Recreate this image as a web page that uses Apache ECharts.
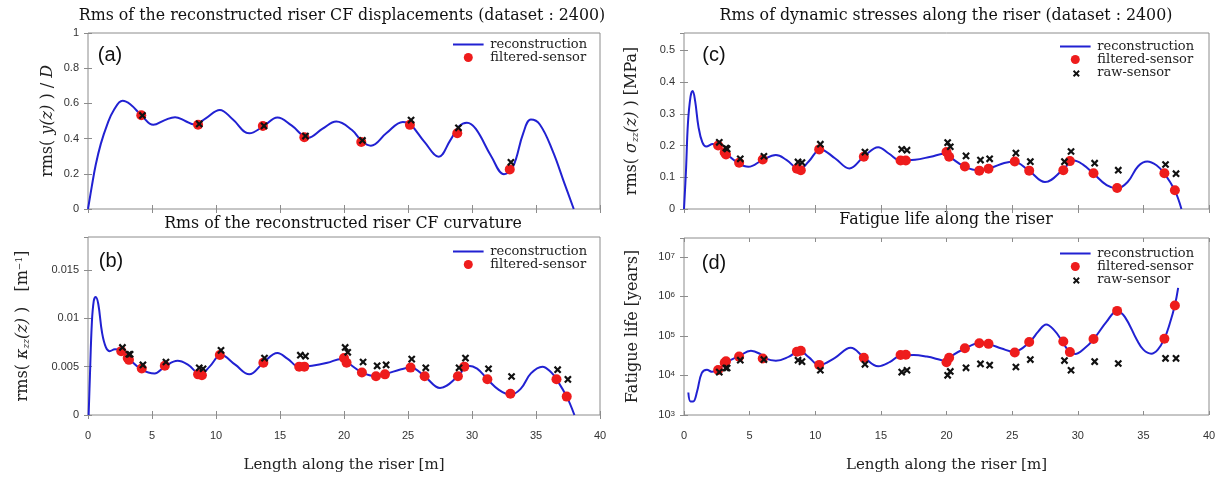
<!DOCTYPE html>
<html>
<head>
<meta charset="utf-8">
<script src="https://cdn.jsdelivr.net/npm/echarts@6/dist/echarts.min.js"></script>
<style>html,body{margin:0;padding:0;background:#fff}#chart{width:1228px;height:478px}</style>
</head>
<body>
<div id="chart"></div>
<script>
// sensor positions along the riser [m]
var sensorZa = [4.16, 8.6, 13.66, 16.9, 21.35, 25.15, 28.85, 32.95];
var sensorZ = [2.6, 3.1, 3.2, 4.2, 6.0, 8.6, 8.9, 10.3, 13.7, 16.5, 16.9, 20.0, 20.2, 21.4, 22.5, 23.2, 25.2, 26.3, 28.9, 29.4, 31.2, 33.0, 36.6, 37.4];

// (a) displacement
var filtA = [0.533, 0.479, 0.472, 0.408, 0.381, 0.478, 0.430, 0.225];
var rawA = [0.538, 0.490, 0.479, 0.421, 0.396, 0.512, 0.468, 0.272];
var reconA = [[0,0],[0.3,0.13],[0.6,0.25],[1.0,0.37],[1.5,0.48],[2.0,0.56],[2.7,0.615],[3.3,0.595],[4.2,0.53],
  [5.1,0.478],[6.0,0.505],[6.8,0.522],[7.6,0.5],[8.3,0.48],[9.2,0.515],[10.3,0.563],[11.3,0.51],[12.6,0.43],
  [13.7,0.47],[14.8,0.52],[15.9,0.475],[17.2,0.405],[18.3,0.455],[19.4,0.497],[20.6,0.45],[21.4,0.385],
  [22.1,0.36],[23.3,0.43],[24.6,0.495],[25.2,0.48],[26.3,0.38],[27.4,0.297],[28.3,0.39],[29.0,0.47],
  [29.6,0.49],[30.3,0.455],[31.5,0.3],[32.5,0.198],[33.2,0.24],[34.0,0.43],[34.6,0.508],[35.3,0.48],
  [36.3,0.33],[37.2,0.15],[37.95,0]];

// (b) curvature
var filtB = [0.0066,0.0059,0.0057,0.0048,0.0051,0.0042,0.0041,0.0062,0.0054,0.0050,0.0050,0.0059,0.0054,0.0044,0.0040,0.0042,0.0049,0.0040,0.0040,0.0050,0.0037,0.0022,0.0037,0.0019];
var rawB = [0.0071,0.0064,0.0064,0.0053,0.0056,0.0050,0.0049,0.0068,0.0060,0.0063,0.0062,0.0071,0.0066,0.0056,0.0052,0.0053,0.0059,0.0050,0.0050,0.0060,0.0049,0.0041,0.0048,0.0038];
var reconB = [[0.05,0],[0.15,0.004],[0.3,0.0095],[0.45,0.0118],[0.6,0.0122],[0.8,0.0115],[1.1,0.0085],[1.4,0.007],
  [1.7,0.0066],[2.1,0.0068],[2.6,0.0067],[3.2,0.0058],[4.2,0.0047],[5.2,0.0043],[6.0,0.005],[7.0,0.0056],
  [7.8,0.0052],[8.8,0.0042],[9.5,0.005],[10.4,0.0062],[11.5,0.0052],[12.6,0.0042],[13.7,0.0054],[14.8,0.0064],
  [15.6,0.0058],[16.5,0.005],[17.5,0.0051],[18.7,0.0054],[19.8,0.0058],[20.3,0.0054],[21.4,0.0044],[22.5,0.004],
  [23.4,0.0043],[24.4,0.0047],[25.2,0.0049],[26.3,0.004],[27.5,0.0028],[28.9,0.004],[29.7,0.0051],[30.4,0.0048],
  [31.2,0.0037],[32.1,0.0026],[33.0,0.0021],[33.8,0.0027],[34.6,0.0043],[35.5,0.005],[36.2,0.0044],[36.6,0.0037],
  [37.4,0.0019],[38.0,0]];

// (c) dynamic stress [MPa]
var filtC = [0.200,0.178,0.172,0.146,0.156,0.127,0.122,0.188,0.165,0.153,0.153,0.180,0.165,0.134,0.121,0.127,0.150,0.121,0.122,0.151,0.113,0.066,0.113,0.059];
var rawC = [0.214,0.196,0.193,0.162,0.170,0.152,0.150,0.208,0.183,0.192,0.189,0.213,0.200,0.171,0.158,0.162,0.180,0.153,0.153,0.185,0.148,0.126,0.144,0.115];
var reconC = [[0,0],[0.15,0.12],[0.3,0.27],[0.5,0.355],[0.66,0.372],[0.85,0.34],[1.1,0.26],[1.4,0.21],[1.7,0.197],
  [2.2,0.205],[2.6,0.2],[3.2,0.175],[4.2,0.143],[4.9,0.133],[6.0,0.155],[7.0,0.17],[7.8,0.155],[8.8,0.125],
  [9.5,0.15],[10.4,0.188],[11.5,0.16],[12.6,0.128],[13.7,0.165],[14.8,0.195],[15.6,0.175],[16.5,0.153],
  [17.6,0.155],[18.8,0.165],[19.9,0.175],[20.3,0.163],[21.4,0.133],[22.5,0.122],[23.4,0.13],[24.4,0.145],
  [25.1,0.15],[26.3,0.12],[27.5,0.085],[28.9,0.125],[29.7,0.153],[30.4,0.14],[31.2,0.112],[32.2,0.075],
  [33.0,0.065],[33.8,0.085],[34.6,0.135],[35.3,0.15],[36.0,0.138],[36.6,0.112],[37.4,0.058],[37.9,0]];

// (d) fatigue life [years]
var filtD = [13800,21000,23000,30000,27000,40000,42000,18500,28000,33000,33500,21500,28000,49000,65000,63000,38000,70000,72000,39000,84000,430000,85000,590000];
var rawD = [13000,16500,16500,26000,27000,26000,24000,14500,20500,13000,14500,10800,13500,16700,21000,19500,17500,27000,25500,14500,24000,21500,29000,29000];
var reconD = [[0.33,3700],[0.5,2200],[0.7,2200],[1.0,4000],[1.35,11500],[1.75,14000],[2.1,12500],[2.6,13500],
  [3.2,21000],[4.2,31000],[5.1,42000],[5.8,35000],[6.2,27000],[7.0,23500],[8.0,30000],[8.8,42000],[9.5,29000],
  [10.3,18500],[11.5,28000],[12.7,50000],[13.7,29000],[14.8,17000],[15.7,22000],[16.5,32000],[17.5,33000],
  [18.5,30000],[19.5,25000],[19.9,23000],[20.3,30000],[21.4,48000],[22.5,65000],[23.2,62000],[24.2,48000],
  [25.1,40000],[26.3,68000],[27.0,130000],[27.6,195000],[28.2,140000],[28.8,75000],[29.3,42000],[29.8,35000],
  [30.5,48000],[31.2,82000],[32.2,230000],[33.0,430000],[33.6,300000],[34.5,80000],[35.0,45000],[35.6,35500],
  [36.1,45000],[36.6,85000],[37.0,200000],[37.4,600000],[37.65,1650000]];

var serif = 'DejaVu Serif';
var sans = 'Liberation Sans';
var frame = '#8c8c8c';
var crossPath = 'path://M-3,-3L-3,-3ZM2,0L5,3L8,0L10,2L7,5L10,8L8,10L5,7L2,10L0,8L3,5L0,2Z';
var linePath = 'path://M0,0L0,0ZM0,3.8L34,3.8L34,6.2L0,6.2ZM0,10L0,10Z';

function pairs(xs, ys) {
  return xs.map(function (x, i) { return [x, ys[i]]; });
}

var grids = [
  {left: 88, top: 33, width: 512, height: 176},
  {left: 88, top: 237, width: 512, height: 178},
  {left: 684, top: 33, width: 525, height: 176},
  {left: 684, top: 238, width: 525, height: 177}
];

function xAxes(g, labels, name) {
  var base = {
    type: 'value', gridIndex: g, min: 0, max: 40, interval: 5,
    axisLine: {show: false}, splitLine: {show: false},
    axisTick: {inside: true, length: 4, lineStyle: {color: frame}}
  };
  var bottom = Object.assign({}, base, {
    position: 'bottom',
    axisLabel: {show: labels, margin: 15, color: '#333', fontFamily: sans, fontSize: 11},
    name: name || '', nameLocation: 'middle', nameGap: 43,
    nameTextStyle: {fontFamily: serif, fontSize: 15, color: '#222'}
  });
  var top = Object.assign({}, base, {position: 'top', axisLabel: {show: false}});
  return [bottom, top];
}

var nameRich = {
  n: {fontFamily: serif, fontSize: 16, color: '#222'},
  it: {fontFamily: serif, fontSize: 16, fontStyle: 'italic', color: '#222'},
  sub: {fontFamily: serif, fontSize: 9, fontStyle: 'italic', color: '#222', verticalAlign: 'bottom'},
  sup: {fontFamily: serif, fontSize: 9, color: '#222', verticalAlign: 'top'}
};

function yAxes(g, opt) {
  var base = {
    type: opt.type || 'value', gridIndex: g, min: opt.min, max: opt.max,
    axisLine: {show: false}, splitLine: {show: false},
    axisTick: {inside: true, length: 4, lineStyle: {color: frame}}
  };
  if (opt.interval) base.interval = opt.interval;
  var left = Object.assign({}, base, {
    position: 'left',
    axisLabel: {margin: 9, color: '#333', fontFamily: sans, fontSize: 11, showMaxLabel: opt.showMax,
      formatter: opt.formatter, rich: opt.labelRich},
    name: opt.name, nameLocation: 'middle', nameGap: opt.nameGap,
    nameTextStyle: {rich: nameRich, fontFamily: serif, fontSize: 16, color: '#222'}
  });
  var right = Object.assign({}, base, {position: 'right', axisLabel: {show: false}});
  return [left, right];
}

var xAxis = [].concat(
  xAxes(0, false), xAxes(1, true, 'Length along the riser [m]'),
  xAxes(2, false), xAxes(3, true, 'Length along the riser [m]')
);

var yAxis = [].concat(
  yAxes(0, {min: 0, max: 1, interval: 0.2, showMax: true, nameGap: 32,
    name: '{n|rms(}{it| y(z) }{n|) / }{it|D}'}),
  yAxes(1, {min: 0, max: 0.0184, interval: 0.005, showMax: false, nameGap: 57,
    name: '{n|rms(}{it| \u03ba}{sub|zz}{it|(z)}{n| )   [m}{sup|\u22121}{n|]}'}),
  yAxes(2, {min: 0, max: 0.555, interval: 0.1, showMax: false, nameGap: 44,
    name: '{n|rms(}{it| \u03c3}{sub|zz}{it|(z)}{n| ) [MPa]}'}),
  yAxes(3, {type: 'log', min: 1000, max: 30000000, showMax: false, nameGap: 43,
    name: '{n|Fatigue life [years]}',
    formatter: function (v) { return '{b|10}{e|' + Math.round(Math.log10(v)) + '}'; },
    labelRich: {b: {fontFamily: sans, fontSize: 11, color: '#333', verticalAlign: 'bottom'},
      e: {fontFamily: sans, fontSize: 8, color: '#333', verticalAlign: 'top'}}})
);

function panelSeries(g, recon, xs, filt, raw) {
  return [
    {name: 'reconstruction', type: 'line', xAxisIndex: 2 * g, yAxisIndex: 2 * g, data: recon,
      smooth: 0.4, symbol: 'none', lineStyle: {color: '#2121d2', width: 2}, itemStyle: {color: '#2121d2'}, z: 2},
    {name: 'filtered-sensor', type: 'scatter', xAxisIndex: 2 * g, yAxisIndex: 2 * g, data: pairs(xs, filt),
      symbol: 'circle', symbolSize: 10, itemStyle: {color: '#ee1c1c', opacity: 1}, z: 3},
    {name: 'raw-sensor', type: 'scatter', xAxisIndex: 2 * g, yAxisIndex: 2 * g, data: pairs(xs, raw),
      symbol: crossPath, symbolSize: 10, itemStyle: {color: '#111', opacity: 1}, z: 4}
  ];
}

var series = [].concat(
  panelSeries(0, reconA, sensorZa, filtA, rawA),
  panelSeries(1, reconB, sensorZ, filtB, rawB),
  panelSeries(2, reconC, sensorZ, filtC, rawC),
  panelSeries(3, reconD, sensorZ, filtD, rawD)
);

function legend(names, left, top, lh) {
  return {
    orient: 'vertical', left: left, top: top, padding: 0, itemGap: 0,
    itemWidth: 34, itemHeight: 9, selectedMode: false,
    data: names.map(function (n) {
      return n === 'reconstruction' ? {name: n, icon: linePath} : {name: n};
    }),
    textStyle: {fontFamily: serif, fontSize: 13, color: '#222', lineHeight: lh}
  };
}

var two = ['reconstruction', 'filtered-sensor'];
var three = ['reconstruction', 'filtered-sensor', 'raw-sensor'];

function label(text, x, y, font) {
  return {type: 'text', x: x, y: y, silent: true,
    style: {text: text, font: font, fill: '#111', textAlign: 'center', textVerticalAlign: 'middle'}};
}

var tFont = '15.8px "' + serif + '"';
var pFont = '20px "' + sans + '"';

var myChart = echarts.init(document.getElementById('chart'));
myChart.setOption({
  animation: false,
  backgroundColor: '#fff',
  grid: grids.map(function (g) {
    return Object.assign({show: true, borderColor: frame, borderWidth: 1, backgroundColor: 'transparent'}, g);
  }),
  xAxis: xAxis,
  yAxis: yAxis,
  legend: [
    legend(two, 453, 38, 13),
    legend(two, 453, 245, 13),
    legend(three, 1060, 40, 12),
    legend(three, 1060, 247, 11)
  ],
  graphic: [
    label('Rms of the reconstructed riser CF displacements (dataset : 2400)', 342, 16, tFont),
    label('Rms of the reconstructed riser CF curvature', 343, 224, tFont),
    label('Rms of dynamic stresses along the riser (dataset : 2400)', 946, 16, tFont),
    label('Fatigue life along the riser', 946, 220, tFont),
    label('(a)', 110, 55, pFont),
    label('(b)', 111, 261, pFont),
    label('(c)', 714, 55, pFont),
    label('(d)', 714, 263, pFont)
  ],
  series: series
});
</script>
</body>
</html>
